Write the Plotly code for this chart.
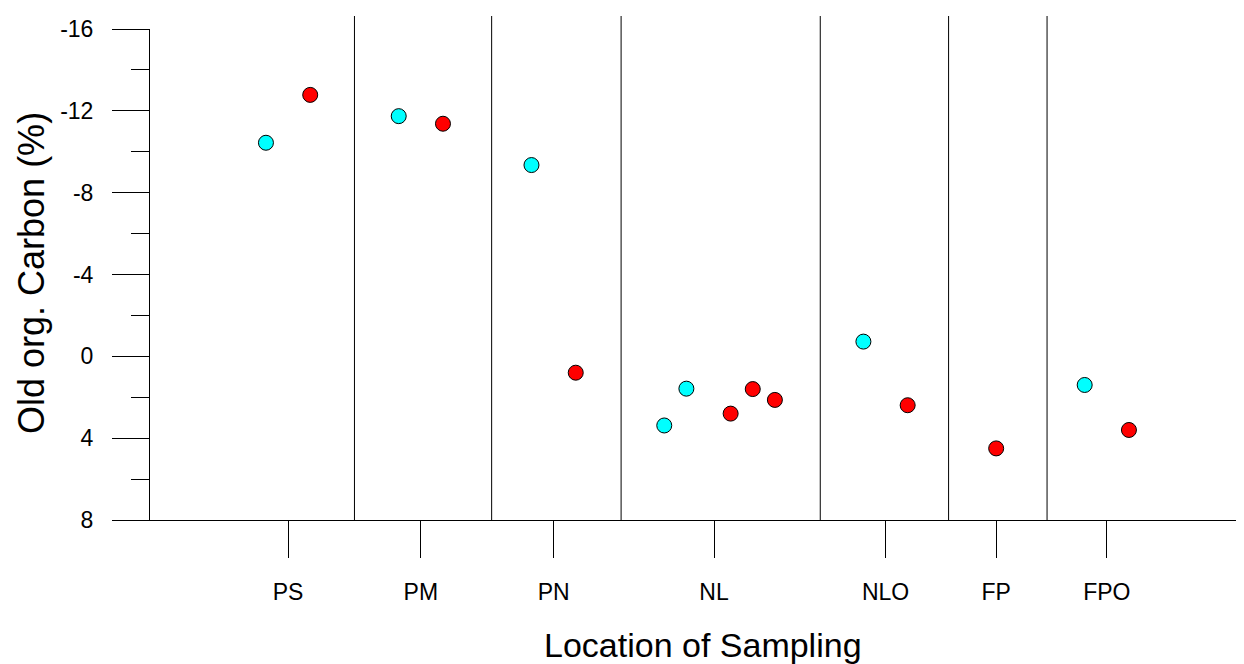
import plotly.graph_objects as go

# Category axis (positions on a numeric location axis)
categories = ["PS", "PM", "PN", "NL", "NLO", "FP", "FPO"]
category_pos = [6, 12, 18, 25.25, 33, 38, 43]
separators = [9, 15.2, 21.05, 30.05, 35.85, 40.3]

# Series 1 (cyan)
cyan_x = [5, 11, 17, 23, 24, 32, 42]
cyan_y = [-10.44, -11.74, -9.35, 3.38, 1.58, -0.72, 1.40]

# Series 2 (red)
red_x = [7, 13, 19, 26, 27, 28, 34, 38, 44]
red_y = [-12.78, -11.37, 0.80, 2.80, 1.60, 2.13, 2.39, 4.50, 3.60]

y_ticks = [-16, -12, -8, -4, 0, 4, 8]
y_ticktext = [str(v) for v in y_ticks]

FONT = "Liberation Sans, Arial, sans-serif"

fig = go.Figure()
marker_line = dict(color="black", width=1)
fig.add_trace(go.Scatter(x=cyan_x, y=cyan_y, mode="markers",
                         marker=dict(size=15, color="#00FFFF", line=marker_line),
                         showlegend=False))
fig.add_trace(go.Scatter(x=red_x, y=red_y, mode="markers",
                         marker=dict(size=15, color="#FF0000", line=marker_line),
                         showlegend=False))

# page has an 8px body margin; compensate so the plot lands where the reference has it
OFF = 8
W, H = 1244 - OFF, 664 - OFF
ml, mr, mt, mb = 150 - OFF, 0, 29 - OFF, 144
ph = H - mt - mb
pw = W - ml - mr

def px_x(p):
    return (p - OFF - ml) / pw

def px_y(p):
    return (H - mb - (p - OFF)) / ph

for s in separators:
    fig.add_shape(type="line", xref="x", yref="paper", x0=s, x1=s,
                  y0=0, y1=px_y(16), line=dict(color="black", width=1))

fig.update_layout(
    width=W, height=H,
    margin=dict(l=ml, r=mr, t=mt, b=mb),
    paper_bgcolor="white", plot_bgcolor="white",
    font=dict(family=FONT, color="black"),
    xaxis=dict(range=[-0.24, 49.2], showgrid=False, zeroline=False,
               showline=True, linecolor="black", linewidth=1,
               tickmode="array", tickvals=category_pos, ticktext=categories,
               ticks="outside", ticklen=37, tickwidth=1, tickcolor="black",
               tickfont=dict(size=23, family=FONT), ticklabelstandoff=14),
    yaxis=dict(range=[8, -16], showgrid=False, zeroline=False,
               showline=True, linecolor="black", linewidth=1,
               tickmode="array", tickvals=y_ticks, ticktext=y_ticktext,
               ticks="outside", ticklen=37, tickwidth=1, tickcolor="black",
               tickfont=dict(size=23, family=FONT), ticklabelstandoff=14,
               minor=dict(dtick=2, tick0=0, ticks="outside", ticklen=18,
                          tickwidth=1, tickcolor="black", showgrid=False)),
    annotations=[
        dict(text="Location of Sampling", xref="paper", yref="paper",
             x=px_x(703), y=px_y(645), xanchor="center",
             yanchor="middle", showarrow=False, font=dict(size=34, family=FONT)),
        dict(text="Old org. Carbon (%)", xref="paper", yref="paper",
             x=px_x(31), y=px_y(273), xanchor="center",
             yanchor="middle", textangle=-90, showarrow=False,
             font=dict(size=36, family=FONT)),
    ],
)

fig.write_html("out.html")
